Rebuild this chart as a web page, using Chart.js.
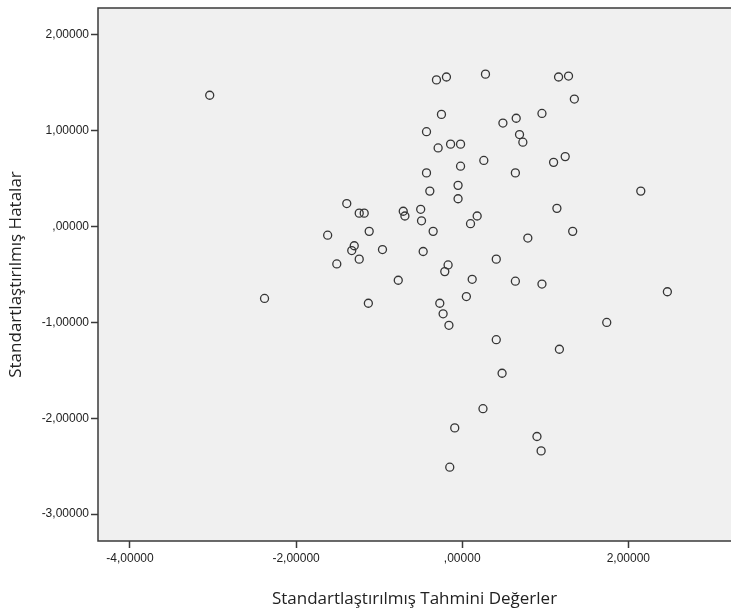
<!DOCTYPE html>
<html lang="tr">
<head>
    <meta charset="UTF-8">
    <title>Standartlaştırılmış Hatalar</title>
    <script src="https://cdn.jsdelivr.net/npm/chart.js"></script>
    <style>
        body { margin: 0; background: #ffffff; }
        canvas { display: block; }
    </style>
</head>
<body>
    <canvas id="grafico" width="731" height="612"></canvas>
<script>
    // degerler
    const tahmini = [
        -3.04, -2.38, -1.62, -1.51, -1.39, -1.30, -1.33, -1.24, -1.18, -1.24,
        -1.12, -1.13, -0.96, -0.77, -0.71, -0.69, -0.50, -0.49, -0.47, -0.43,
        -0.43, -0.39, -0.35, -0.31, -0.29, -0.27, -0.25, -0.23, -0.21, -0.19,
        -0.17, -0.16, -0.14, -0.15, -0.09, -0.02, -0.02, -0.05, -0.05, 0.05,
        0.10, 0.12, 0.18, 0.28, 0.26, 0.25, 0.41, 0.41, 0.48, 0.49,
        0.64, 0.64, 0.65, 0.69, 0.73, 0.79, 0.90, 0.95, 0.96, 0.96,
        1.10, 1.14, 1.16, 1.17, 1.24, 1.28, 1.33, 1.35, 1.74, 2.15,
        2.47
    ];
    const hatalar = [
        1.37, -0.75, -0.09, -0.39, 0.24, -0.20, -0.25, 0.14, 0.14, -0.34,
        -0.05, -0.80, -0.24, -0.56, 0.16, 0.11, 0.18, 0.06, -0.26, 0.99,
        0.56, 0.37, -0.05, 1.53, 0.82, -0.80, 1.17, -0.91, -0.47, 1.56,
        -0.40, -1.03, 0.86, -2.51, -2.10, 0.86, 0.63, 0.43, 0.29, -0.73,
        0.03, -0.55, 0.11, 1.59, 0.69, -1.90, -1.18, -0.34, -1.53, 1.08,
        0.56, -0.57, 1.13, 0.96, 0.88, -0.12, -2.19, -2.34, -0.60, 1.18,
        0.67, 0.19, 1.56, -1.28, 0.73, 1.57, -0.05, 1.33, -1.00, 0.37,
        -0.68
    ];
    const xTicks = [-4, -2, 0, 2];
    const yTicks = [-3, -2, -1, 0, 1, 2];

    const pontos = [];
    for (let i = 0; i < tahmini.length; i++) {
        pontos.push({ x: tahmini[i], y: hatalar[i] });
    }

    // SPSS tarzi etiket: 2,00000 / ,00000
    function rotulo(v) {
        let s = Number(v).toFixed(5).replace('.', ',');
        if (s.startsWith('0,')) s = s.substring(1);
        if (s.startsWith('-0,')) s = '-' + s.substring(2);
        return s;
    }

    const fundoArea = {
        id: 'fundoArea',
        beforeDraw(chart) {
            const { ctx, chartArea: a } = chart;
            ctx.save();
            ctx.fillStyle = '#f0f0f0';
            ctx.fillRect(a.left, a.top, chart.width - a.left, a.bottom - a.top);
            ctx.restore();
        },
        afterDraw(chart) {
            const { ctx, chartArea: a } = chart;
            ctx.save();
            ctx.strokeStyle = '#3a3a3a';
            ctx.lineWidth = 1.5;
            ctx.beginPath();
            ctx.moveTo(chart.width, a.top);
            ctx.lineTo(a.left, a.top);
            ctx.lineTo(a.left, a.bottom);
            ctx.lineTo(chart.width, a.bottom);
            ctx.stroke();
            ctx.restore();
        }
    };

    const semPadding = (s) => {
        s.paddingLeft = 0;
        s.paddingRight = 0;
        s.paddingTop = 0;
        s.paddingBottom = 0;
    };

    const config = {
        type: 'scatter',
        data: {
            datasets: [{
                data: pontos,
                pointRadius: 4,
                pointHoverRadius: 4,
                pointBorderWidth: 1.3,
                pointBorderColor: '#353535',
                pointBackgroundColor: 'rgba(0,0,0,0)'
            }]
        },
        options: {
            responsive: false,
            animation: false,
            layout: { autoPadding: false, padding: { top: 8, right: 0, left: 0, bottom: 0 } },
            plugins: {
                legend: { display: false },
                tooltip: { enabled: false }
            },
            scales: {
                x: {
                    type: 'linear',
                    min: -4.385,
                    max: 3.236,
                    afterBuildTicks: (s) => { s.ticks = xTicks.map(v => ({ value: v })); },
                    afterFit: (s) => { s.height = 71; semPadding(s); },
                    border: { display: false },
                    grid: {
                        drawOnChartArea: false,
                        tickLength: 7,
                        tickWidth: 1.5,
                        tickColor: '#3a3a3a'
                    },
                    ticks: {
                        padding: 3,
                        color: '#222',
                        font: { family: 'Liberation Sans', size: 12 },
                        callback: rotulo,
                        maxRotation: 0
                    },
                    title: {
                        display: true,
                        text: 'Standartlaştırılmış Tahmini Değerler',
                        color: '#222',
                        font: { family: 'Open Sans', size: 17 },
                        padding: { top: 0, bottom: 3 }
                    }
                },
                y: {
                    type: 'linear',
                    min: -3.28,
                    max: 2.28,
                    afterBuildTicks: (s) => { s.ticks = yTicks.map(v => ({ value: v })); },
                    afterFit: (s) => { s.width = 98; semPadding(s); },
                    border: { display: false },
                    grid: {
                        drawOnChartArea: false,
                        tickLength: 7,
                        tickWidth: 1.5,
                        tickColor: '#3a3a3a'
                    },
                    ticks: {
                        padding: 2,
                        color: '#222',
                        font: { family: 'Liberation Sans', size: 12 },
                        callback: rotulo
                    },
                    title: {
                        display: true,
                        text: 'Standartlaştırılmış Hatalar',
                        color: '#222',
                        font: { family: 'Open Sans', size: 17 },
                        padding: { top: 6, bottom: 0 }
                    }
                }
            }
        },
        plugins: [fundoArea]
    };

    new Chart(document.getElementById('grafico'), config);
</script>
</body>
</html>
